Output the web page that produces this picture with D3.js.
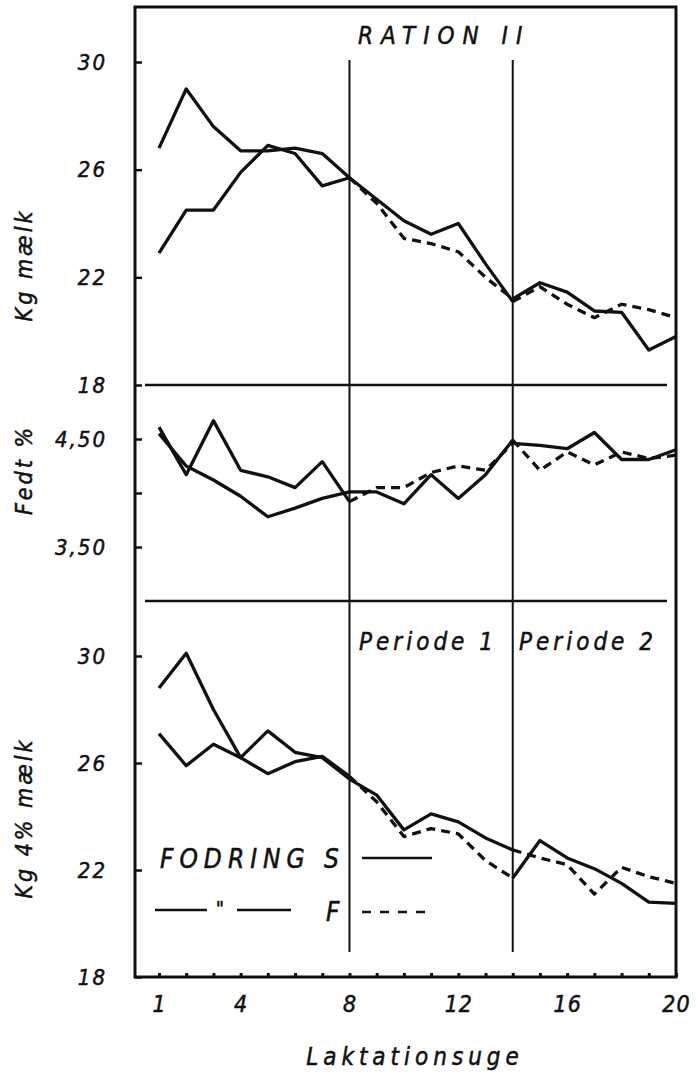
<!DOCTYPE html>
<html lang="da">
<head>
<meta charset="UTF-8">
<title>Ration II</title>
<script src="https://cdn.jsdelivr.net/npm/d3@7"></script>
<style>
  body { margin: 0; background: #fff; }
  text {
    font-family: "DejaVu Sans Condensed", "DejaVu Sans", sans-serif;
    font-stretch: condensed;
    font-style: italic;
    fill: #111;
    stroke: #111;
    stroke-width: 0.5;
  }
</style>
</head>
<body>
<div id="chart"></div>
<script>
const weeks = d3.range(1, 21);
const xTickLabels = [1, 4, 8, 12, 16, 20];
const periodBreaks = [8, 14];

// group A: solid in periode 1, dashed in periode 2 ; group B the other way round
const milkA = [22.9, 24.5, 24.5, 25.9, 26.9, 26.6, 25.4, 25.7, 24.9, 24.1, 23.6, 24.0, 22.5, 21.1, 21.65, 21.0, 20.5, 21.0, 20.8, 20.5];
const milkB = [26.8, 29.0, 27.6, 26.7, 26.7, 26.8, 26.6, 25.7, 24.75, 23.45, 23.25, 22.95, 22.0, 21.2, 21.8, 21.45, 20.75, 20.7, 19.3, 19.8];

const fatA = [4.55, 4.25, 4.12, 3.97, 3.78, 3.86, 3.95, 4.01, 4.01, 3.90, 4.17, 3.95, 4.17, 4.49, 4.21, 4.38, 4.26, 4.38, 4.32, 4.35];
const fatB = [4.61, 4.17, 4.67, 4.21, 4.15, 4.05, 4.29, 3.92, 4.05, 4.05, 4.19, 4.25, 4.21, 4.46, 4.44, 4.41, 4.56, 4.31, 4.31, 4.40];

const fcmA = [28.8, 30.1, 28.0, 26.2, 27.2, 26.4, 26.2, 25.4, 24.8, 23.5, 24.1, 23.8, 23.2, 22.75, 22.45, 22.2, 21.1, 22.1, 21.75, 21.5];
const fcmB = [27.1, 25.9, 26.7, 26.2, 25.6, 26.05, 26.25, 25.5, 24.55, 23.25, 23.55, 23.35, 22.35, 21.7, 23.1, 22.45, 22.05, 21.5, 20.8, 20.75];

const milkTicks = [30, 26, 22, 18];
const fatTicks = [4.5, 4.0, 3.5];
const fatTickLabels = {4.5: "4,50", 3.5: "3,50"};
const fcmTicks = [30, 26, 22, 18];

const W = 696, H = 1078;
const frameL = 135, frameR = 676, frameT = 7, frameB = 977;

const svg = d3.select("#chart").append("svg").attr("width", W).attr("height", H);

const x = d3.scaleLinear().domain([1, 20]).range([159, frameR]);
const yMilk = d3.scaleLinear().domain([18, 30]).range([385, 62]);
const yFat = d3.scaleLinear().domain([3, 5]).range([601, 385]);
const yFcm = d3.scaleLinear().domain([18, 30]).range([frameB, 656]);

// frame
svg.append("rect")
  .attr("x", frameL).attr("y", frameT)
  .attr("width", frameR - frameL).attr("height", frameB - frameT)
  .attr("fill", "none").attr("stroke", "#111").attr("stroke-width", 3);

// panel dividers
[yMilk(18), yFat(3)].forEach(yy => {
  svg.append("line")
    .attr("x1", frameL + 10).attr("x2", frameR - 9)
    .attr("y1", yy).attr("y2", yy)
    .attr("stroke", "#111").attr("stroke-width", 2.5);
});

// period lines
periodBreaks.forEach(w => {
  svg.append("line")
    .attr("x1", x(w)).attr("x2", x(w))
    .attr("y1", 60).attr("y2", 952)
    .attr("stroke", "#111").attr("stroke-width", 2);
});

function leftAxis(scale, ticks, fmt) {
  const g = svg.append("g").attr("transform", `translate(${frameL},0)`)
    .call(d3.axisLeft(scale).tickValues(ticks).tickSize(-7).tickPadding(28).tickFormat(fmt));
  g.select(".domain").remove();
  g.selectAll("line").attr("stroke", "#111").attr("stroke-width", 2.5);
  g.selectAll("text").attr("font-size", 22).attr("fill", "#111")
    .attr("letter-spacing", 2).attr("font-family", null);
}
leftAxis(yMilk, milkTicks, d => d);
leftAxis(yFat, fatTicks, d => fatTickLabels[d] || "");
leftAxis(yFcm, fcmTicks, d => d);

// bottom axis
const xg = svg.append("g").attr("transform", `translate(0,${frameB})`)
  .call(d3.axisBottom(x).tickValues(weeks).tickSize(-4).tickPadding(19)
    .tickFormat(d => xTickLabels.includes(d) ? d : ""));
xg.select(".domain").remove();
xg.selectAll("line").attr("stroke", "#111").attr("stroke-width", 3);
xg.selectAll("text").attr("font-size", 23).attr("fill", "#111")
  .attr("letter-spacing", 1).attr("font-family", null);

// data lines
const segs = [
  {from: 1, to: 8, a: "solid", b: "solid"},
  {from: 8, to: 14, a: "solid", b: "dash"},
  {from: 14, to: 20, a: "dash", b: "solid"}
];
function drawPanel(y, a, b) {
  const line = d3.line().x(d => x(d.w)).y(d => y(d.v));
  [[a, "a"], [b, "b"]].forEach(([vals, key]) => {
    segs.forEach(s => {
      const pts = weeks.filter(w => w >= s.from && w <= s.to).map(w => ({w: w, v: vals[w - 1]}));
      svg.append("path")
        .attr("d", line(pts))
        .attr("fill", "none")
        .attr("stroke", "#111")
        .attr("stroke-width", 3.3)
        .attr("stroke-linejoin", "round")
        .attr("stroke-dasharray", s[key] === "dash" ? "9,6" : null);
    });
  });
}
drawPanel(yMilk, milkA, milkB);
drawPanel(yFat, fatA, fatB);
drawPanel(yFcm, fcmA, fcmB);

// labels
svg.append("text").attr("x", 358).attr("y", 44)
  .attr("font-size", 24).attr("letter-spacing", 8).text("RATION II");
svg.append("text").attr("x", 359).attr("y", 650)
  .attr("font-size", 24).attr("letter-spacing", 4).text("Periode 1");
svg.append("text").attr("x", 519).attr("y", 650)
  .attr("font-size", 24).attr("letter-spacing", 4).text("Periode 2");

svg.append("text").attr("x", 415).attr("y", 1065).attr("text-anchor", "middle")
  .attr("font-size", 24).attr("letter-spacing", 5).text("Laktationsuge");

[["Kg mælk", 265], ["Fedt %", 470], ["Kg 4% mælk", 818]].forEach(([t, cy]) => {
  svg.append("text")
    .attr("transform", `translate(32,${cy}) rotate(-90)`)
    .attr("text-anchor", "middle")
    .attr("font-size", 23).attr("letter-spacing", 3).text(t);
});

// legend
svg.append("text").attr("x", 160).attr("y", 868)
  .attr("font-size", 26).attr("letter-spacing", 6).text("FODRING S");
svg.append("line").attr("x1", 362).attr("x2", 432).attr("y1", 858).attr("y2", 858)
  .attr("stroke", "#111").attr("stroke-width", 2.5);
[[155, 207], [237, 291]].forEach(([a, b]) => {
  svg.append("line").attr("x1", a).attr("x2", b).attr("y1", 910).attr("y2", 910)
    .attr("stroke", "#111").attr("stroke-width", 2.5);
});
svg.append("text").attr("x", 220).attr("y", 915).attr("text-anchor", "middle")
  .attr("font-size", 20).text("\"");
svg.append("text").attr("x", 326).attr("y", 921)
  .attr("font-size", 26).text("F");
svg.append("line").attr("x1", 362).attr("x2", 432).attr("y1", 912).attr("y2", 912)
  .attr("stroke", "#111").attr("stroke-width", 2.5).attr("stroke-dasharray", "9,9");
</script>
</body>
</html>
